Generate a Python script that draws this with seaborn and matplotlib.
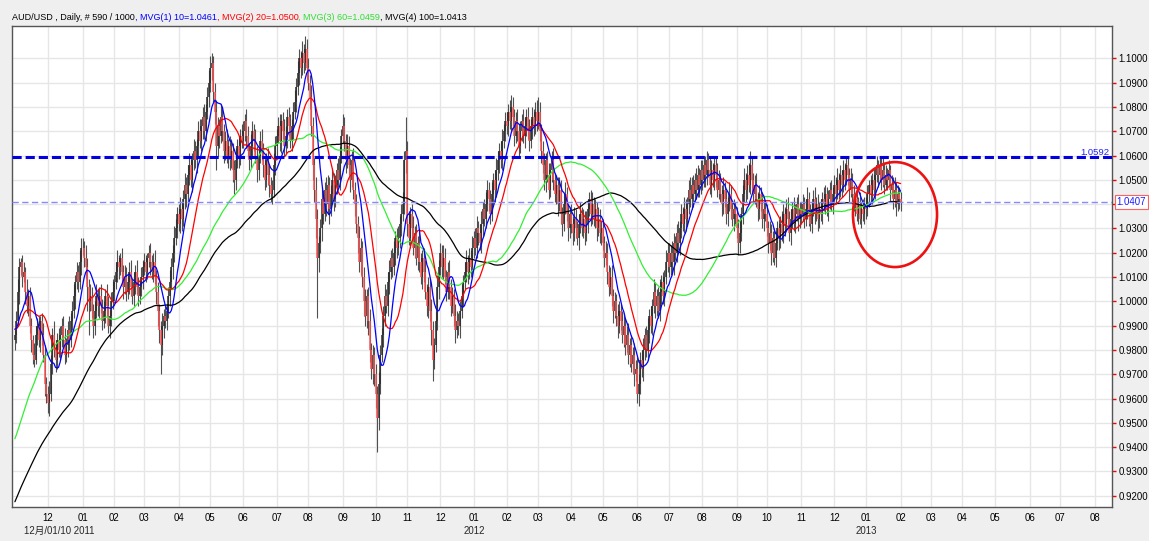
import numpy as np
import pandas as pd
import matplotlib
matplotlib.use("Agg")
import matplotlib.pyplot as plt
from matplotlib.patches import Ellipse
import seaborn as sns

# AUD/USD daily closes, in 1/1000 USD
# closes before the first drawn bar (15 Jun - 29 Oct 2010), only used to warm up the moving averages
close_before = [
    850, 856, 862, 868, 872, 870, 874, 868, 866, 858, 852, 846,
    852, 858, 864, 870, 874, 878, 872, 868, 862, 866, 872, 876, 880, 886, 890, 888, 894, 898, 902, 900, 906, 908,
    912, 914, 910, 906, 900, 896, 892, 894, 898, 900, 896, 892, 888, 884, 886, 890, 894, 888, 884, 880, 886, 892,
    892, 898, 904, 908, 914, 920, 924, 928, 932, 936, 940, 944, 950, 956, 960, 958, 955, 960, 964, 968, 966, 964,
    974, 980, 986, 990, 994, 988, 982, 978, 984, 990, 996, 994, 990, 986, 990, 994, 998, 992, 986, 980, 984,
]
# drawn bars, 1 Nov 2010 - 1 Feb 2013 (one row per month)
close = [
    986, 992, 1004, 1014, 1016, 1010, 1012, 1004, 998, 1002, 990, 984, 978, 976, 986, 990, 984, 992, 986, 978, 966, 962,
    958, 962, 974, 986, 980, 976, 984, 980, 986, 990, 984, 978, 982, 988, 984, 992, 996, 1002, 1008, 1012, 1008, 1016, 1022,
    1022, 1018, 1014, 1006, 1000, 1002, 996, 990, 996, 1002, 998, 1002, 998, 992, 996, 1002, 998, 990, 994, 1000, 1004,
    1008, 1012, 1016, 1014, 1018, 1012, 1006, 1010, 1004, 1008, 1012, 1006, 1002, 1008, 1012, 1006, 1002, 1006, 1010, 1014,
    1016, 1012, 1018, 1020, 1016, 1012, 1016, 1010, 1004, 996, 988, 982, 990, 994, 992, 996, 1002, 1008, 1014, 1020, 1026, 1030, 1036,
    1032, 1038, 1034, 1042, 1048, 1044, 1052, 1056, 1050, 1058, 1062, 1058, 1064, 1070, 1066, 1072, 1076, 1070, 1078, 1084, 1090,
    1096, 1098, 1086, 1078, 1064, 1072, 1068, 1076, 1070, 1062, 1066, 1060, 1064, 1058, 1062, 1054, 1050, 1058, 1064, 1060, 1068, 1066,
    1070, 1074, 1068, 1062, 1058, 1064, 1070, 1066, 1060, 1054, 1060, 1066, 1062, 1056, 1050, 1058, 1052, 1048, 1044, 1046, 1056, 1064,
    1068, 1072, 1066, 1074, 1070, 1064, 1068, 1076, 1072, 1066, 1072, 1078, 1082, 1088, 1094, 1100, 1096, 1102, 1098, 1104, 1096,
    1090, 1084, 1072, 1056, 1046, 1034, 1018, 1024, 1030, 1042, 1036, 1046, 1040, 1048, 1038, 1044, 1050, 1042, 1048, 1054, 1050, 1060, 1068,
    1072, 1066, 1058, 1064, 1056, 1050, 1058, 1046, 1040, 1032, 1026, 1016, 1022, 1010, 1000, 994, 1002, 992, 980, 972, 978, 970,
    962, 952, 966, 978, 986, 994, 1002, 998, 1008, 1012, 1018, 1014, 1020, 1026, 1022, 1026, 1032, 1036, 1040, 1058, 1062,
    1032, 1026, 1036, 1030, 1022, 1028, 1018, 1024, 1016, 1010, 1018, 1012, 1004, 998, 1006, 996, 988, 976, 982, 992, 1006, 1014,
    1020, 1014, 1018, 1010, 1004, 1012, 1006, 998, 1002, 994, 988, 992, 990, 996, 1002, 1008, 1012, 1016, 1012, 1018, 1014, 1022,
    1026, 1022, 1030, 1028, 1024, 1032, 1038, 1034, 1040, 1046, 1042, 1036, 1044, 1050, 1046, 1054, 1058, 1062, 1058, 1066, 1070, 1074,
    1072, 1078, 1074, 1080, 1076, 1068, 1074, 1070, 1064, 1070, 1074, 1068, 1072, 1076, 1070, 1066, 1072, 1076, 1072, 1078, 1074,
    1078, 1070, 1062, 1056, 1050, 1058, 1052, 1046, 1054, 1058, 1050, 1044, 1048, 1040, 1046, 1036, 1032, 1040, 1044, 1036, 1030, 1036,
    1032, 1028, 1034, 1030, 1026, 1032, 1036, 1030, 1034, 1028, 1032, 1038, 1042, 1036, 1040, 1034, 1038, 1030, 1034, 1028, 1030,
    1024, 1018, 1020, 1012, 1006, 1010, 1002, 996, 1000, 994, 990, 996, 992, 986, 990, 982, 986, 978, 982, 974, 978, 970, 972,
    962, 966, 976, 972, 980, 986, 980, 988, 994, 990, 998, 1004, 998, 1002, 996, 1004, 1008, 1002, 1010, 1016, 1020,
    1014, 1020, 1016, 1024, 1020, 1028, 1024, 1030, 1036, 1032, 1038, 1034, 1040, 1046, 1042, 1048, 1044, 1050, 1046, 1052, 1048, 1054,
    1050, 1056, 1052, 1058, 1054, 1048, 1054, 1050, 1056, 1052, 1046, 1050, 1044, 1040, 1046, 1042, 1036, 1040, 1044, 1038, 1034, 1038, 1036,
    1030, 1024, 1028, 1036, 1044, 1050, 1046, 1052, 1048, 1056, 1050, 1044, 1048, 1042, 1038, 1044, 1040, 1034, 1038, 1036,
    1030, 1024, 1028, 1020, 1026, 1018, 1024, 1030, 1026, 1032, 1028, 1036, 1032, 1038, 1034, 1028, 1034, 1038, 1032, 1036, 1040, 1034, 1038,
    1036, 1040, 1034, 1038, 1042, 1036, 1032, 1038, 1042, 1036, 1040, 1034, 1038, 1036, 1042, 1040, 1044, 1038, 1042, 1046, 1040, 1044,
    1048, 1044, 1050, 1046, 1052, 1048, 1054, 1050, 1056, 1052, 1046, 1050, 1044, 1040, 1042, 1036, 1040, 1034, 1038, 1036, 1040,
    1038, 1044, 1048, 1044, 1050, 1046, 1052, 1056, 1052, 1056, 1050, 1054, 1048, 1052, 1050, 1054, 1046, 1048, 1042, 1046, 1040, 1044, 1042,
    1041,
]
# wick above / below the candle body, in 1/1000 USD
up_wick = [
    3, 4, 5, 4, 2, 3, 4, 2, 5, 3, 4, 3, 2, 5, 4, 3, 4, 2, 3, 5, 4, 3,
    3, 5, 4, 3, 6, 4, 3, 5, 4, 3, 4, 5, 3, 4, 6, 3, 4, 5, 3, 4, 3, 5, 4,
    4, 3, 5, 4, 3, 5, 4, 3, 4, 5, 3, 4, 5, 3, 4, 3, 5, 4, 3, 4, 5,
    3, 4, 5, 3, 2, 4, 3, 5, 4, 3, 4, 5, 3, 4, 3, 5, 4, 3, 4, 3,
    4, 3, 2, 3, 4, 3, 4, 5, 3, 4, 3, 4, 5, 3, 4, 3, 4, 5, 4, 3, 5, 4, 3,
    4, 5, 3, 4, 5, 3, 4, 5, 4, 3, 5, 4, 3, 4, 5, 3, 4, 5, 3, 4, 5,
    5, 4, 3, 4, 5, 4, 3, 5, 4, 3, 4, 5, 3, 4, 5, 3, 4, 5, 3, 4, 3, 5,
    4, 3, 5, 4, 3, 5, 4, 3, 5, 4, 3, 4, 5, 3, 4, 3, 5, 4, 3, 4, 5, 4,
    3, 4, 5, 3, 4, 5, 4, 3, 4, 5, 3, 4, 5, 4, 5, 4, 3, 5, 4, 5, 4,
    4, 3, 5, 4, 3, 5, 4, 3, 4, 5, 4, 3, 5, 4, 3, 4, 5, 3, 4, 3, 5, 4, 3,
    5, 4, 3, 5, 4, 3, 4, 5, 3, 4, 3, 5, 4, 3, 4, 5, 3, 4, 5, 3, 4, 3,
    4, 3, 5, 4, 3, 4, 5, 3, 4, 5, 3, 4, 5, 3, 4, 5, 3, 4, 5, 4, 14,
    4, 5, 3, 4, 5, 3, 4, 3, 5, 4, 3, 4, 5, 3, 4, 3, 5, 4, 3, 4, 5, 3,
    4, 3, 5, 4, 3, 4, 5, 3, 4, 3, 5, 4, 3, 4, 5, 3, 4, 5, 3, 4, 3, 5,
    3, 4, 5, 3, 4, 5, 3, 4, 5, 4, 3, 4, 5, 3, 4, 5, 4, 3, 4, 5, 3, 4,
    4, 3, 5, 5, 4, 3, 4, 5, 3, 4, 3, 5, 4, 3, 4, 5, 3, 4, 3, 4, 5,
    6, 4, 3, 4, 5, 3, 4, 5, 3, 4, 5, 3, 4, 3, 5, 4, 3, 4, 5, 3, 4, 3,
    4, 3, 5, 4, 3, 4, 5, 3, 4, 3, 5, 4, 3, 4, 5, 3, 4, 3, 5, 4, 3,
    4, 3, 5, 4, 3, 4, 5, 3, 4, 3, 5, 4, 3, 4, 5, 3, 4, 5, 3, 4, 3, 5, 4,
    5, 4, 3, 4, 5, 3, 4, 5, 3, 4, 3, 5, 4, 3, 4, 5, 3, 4, 3, 5, 4,
    4, 3, 5, 4, 3, 4, 5, 3, 4, 3, 5, 4, 3, 4, 5, 3, 4, 3, 5, 4, 3, 4,
    4, 3, 4, 4, 3, 5, 4, 3, 4, 3, 5, 4, 3, 4, 5, 3, 4, 3, 5, 4, 3, 4, 3,
    3, 4, 5, 3, 4, 5, 3, 4, 5, 6, 4, 3, 4, 5, 3, 4, 3, 5, 4, 3,
    4, 3, 5, 4, 3, 4, 5, 3, 4, 3, 5, 4, 3, 4, 5, 3, 4, 3, 5, 4, 3, 4, 3,
    3, 4, 3, 4, 5, 3, 4, 3, 4, 5, 3, 4, 3, 4, 3, 5, 4, 3, 4, 3, 4, 3,
    4, 3, 5, 3, 4, 2, 4, 3, 3, 4, 3, 5, 3, 4, 2, 4, 3, 5, 3, 4, 3,
    3, 4, 2, 4, 3, 5, 3, 4, 2, 4, 3, 5, 3, 4, 3, 4, 2, 4, 3, 5, 3, 4, 3,
    3,
]
down_wick = [
    4, 3, 2, 5, 3, 4, 2, 5, 3, 4, 3, 5, 4, 3, 2, 4, 3, 5, 4, 3, 5, 4,
    4, 5, 3, 4, 3, 5, 4, 3, 4, 5, 3, 4, 3, 5, 4, 3, 4, 3, 5, 3, 4, 3, 5,
    3, 4, 5, 10, 14, 4, 3, 5, 4, 3, 4, 5, 3, 4, 3, 5, 4, 3, 5, 4, 3,
    4, 3, 4, 5, 3, 4, 5, 3, 4, 3, 5, 4, 3, 4, 5, 3, 4, 3, 4, 5,
    3, 4, 3, 4, 5, 3, 4, 3, 5, 6, 5, 12, 4, 5, 3, 4, 3, 4, 3, 5, 4, 3, 4,
    3, 4, 5, 3, 4, 5, 3, 4, 3, 5, 4, 3, 5, 4, 3, 4, 5, 3, 4, 3, 4,
    4, 5, 4, 5, 10, 4, 5, 3, 4, 5, 4, 3, 5, 4, 3, 5, 6, 4, 3, 5, 4, 3,
    3, 4, 5, 3, 4, 3, 5, 4, 3, 5, 4, 3, 4, 5, 4, 3, 4, 5, 3, 4, 3, 4,
    4, 3, 4, 5, 3, 4, 3, 5, 4, 3, 4, 5, 3, 4, 3, 5, 4, 3, 4, 3, 5,
    3, 5, 4, 6, 5, 8, 25, 6, 4, 5, 4, 3, 5, 4, 6, 3, 4, 5, 3, 4, 3, 4, 3,
    3, 4, 5, 3, 4, 5, 3, 4, 5, 4, 6, 4, 5, 4, 6, 4, 5, 6, 5, 4, 6, 5,
    6, 14, 5, 4, 3, 5, 4, 3, 4, 5, 3, 4, 3, 5, 4, 3, 4, 5, 3, 4, 5,
    5, 3, 4, 5, 3, 4, 3, 5, 4, 3, 5, 4, 3, 4, 5, 4, 6, 9, 4, 3, 4, 5,
    3, 4, 5, 3, 4, 3, 5, 4, 3, 4, 5, 3, 4, 5, 3, 4, 3, 4, 5, 3, 4, 3,
    4, 3, 4, 5, 3, 4, 5, 3, 4, 3, 5, 4, 3, 4, 5, 3, 4, 5, 3, 4, 3, 4,
    3, 4, 3, 4, 5, 4, 3, 4, 5, 3, 4, 3, 5, 4, 3, 4, 3, 5, 4, 3, 4,
    3, 4, 5, 3, 4, 5, 3, 4, 3, 5, 4, 3, 4, 5, 3, 4, 5, 3, 4, 3, 5, 4,
    4, 5, 3, 4, 3, 5, 4, 3, 4, 5, 3, 4, 3, 5, 4, 3, 4, 5, 3, 4, 5,
    3, 4, 3, 5, 4, 3, 4, 5, 3, 4, 5, 3, 4, 3, 5, 4, 3, 4, 5, 3, 4, 5, 3,
    4, 5, 4, 3, 5, 4, 3, 4, 5, 3, 4, 3, 5, 4, 3, 4, 5, 3, 4, 3, 4,
    4, 3, 4, 5, 3, 4, 3, 5, 4, 3, 4, 5, 3, 4, 3, 4, 5, 3, 4, 3, 5, 4,
    4, 3, 5, 4, 3, 4, 5, 3, 4, 5, 3, 4, 3, 5, 4, 3, 4, 5, 3, 4, 3, 5, 4,
    4, 5, 4, 3, 4, 3, 5, 4, 3, 4, 5, 3, 4, 3, 5, 4, 3, 4, 5, 3,
    3, 4, 3, 5, 4, 3, 4, 3, 5, 4, 3, 4, 5, 3, 4, 3, 5, 4, 3, 4, 3, 5, 4,
    4, 3, 4, 3, 4, 5, 3, 4, 3, 4, 3, 5, 4, 3, 4, 3, 4, 3, 5, 4, 3, 4,
    3, 4, 2, 4, 3, 5, 3, 4, 2, 4, 5, 3, 4, 3, 5, 3, 4, 2, 4, 3, 4,
    4, 3, 5, 3, 4, 2, 4, 3, 5, 3, 4, 3, 4, 2, 4, 3, 5, 3, 4, 3, 5, 3, 4,
    4,
]

first_day = "2010-11-01"
axis_last_day = "2013-08-30"
ma_periods = [100, 60, 20, 10]
ma_colors = ["#000000", "#33ee33", "#ff0000", "#0000ff"]
title_parts = [
    ("AUD/USD , Daily, # 590 / 1000", "#000000"),
    (", MVG(1) 10=1.0461", "#0000ff"),
    (", MVG(2) 20=1.0500", "#ff0000"),
    (", MVG(3) 60=1.0459", "#33dd33"),
    (", MVG(4) 100=1.0413", "#000000"),
]
year_labels = {2011: "12月/01/10 2011", 2012: "2012", 2013: "2013"}
resistance = 1.0592
last_price = 1.0407

sns.set_style("white")
plt.rcParams["font.family"] = ["Liberation Sans", "Noto Sans CJK JP"]

fig = plt.figure(figsize=(11.49, 5.41), dpi=100)
fig.patch.set_facecolor("#efefef")
ax = fig.add_axes([12 / 1149, 1 - 507 / 541, 1100 / 1149, 481 / 541])
ax.set_facecolor("white")

# candles: open = previous close
c = np.array(close) / 1000
o = np.array([close_before[-1]] + close[:-1]) / 1000
hi = np.maximum(o, c) + np.array(up_wick) / 1000
lo = np.minimum(o, c) - np.array(down_wick) / 1000
x = np.arange(len(c))
up = c >= o
ax.vlines(x, lo, hi, color="#505050", lw=0.8, zorder=2)
ax.vlines(x[up], o[up], c[up], color="#2a2a2a", lw=1.1, zorder=2.1)
ax.vlines(x[~up], c[~up], o[~up], color="#ff5555", lw=1.1, zorder=2.1)

# moving averages
s = pd.Series(close_before + close, dtype=float) / 1000
for n, col in zip(ma_periods, ma_colors):
    m = s.rolling(n).mean().to_numpy()[len(close_before):]
    sns.lineplot(x=x, y=m, color=col, lw=0.9, ax=ax, zorder=3)

ax.axhline(resistance, color="#0000e0", lw=2.2, dashes=(3, 1.3), zorder=4)
ax.axhline(last_price, color="#8888ff", lw=1.0, dashes=(4.5, 2.5), zorder=4)
ax.text(0.998, resistance, "1.0592", transform=ax.get_yaxis_transform(), ha="right", va="bottom",
        color="#2222ff", fontsize=6.8, zorder=5)
ax.text(1.0042, last_price, "1.0407", transform=ax.get_yaxis_transform(), ha="left", va="center",
        color="#1a1aff", fontsize=6.9, zorder=6, clip_on=False,
        bbox=dict(boxstyle="square,pad=0.2", fc="white", ec="#ff6060", lw=0.8))

ax.add_patch(Ellipse((585.3, 1.0357), 55.9, 0.0432, fill=False, ec="#ee1111", lw=1.9, zorder=7))

# axes, ticks, grid
days = pd.bdate_range(first_day, axis_last_day)
mon = days.year * 12 + days.month
pos = np.flatnonzero(np.diff(mon)) + 1
ax.set_xticks(pos, days[pos].strftime("%m"))
ax.set_xlim(-1.93, 729.6)
ax.set_ylim(0.91535, 1.1133)
ax.yaxis.tick_right()
yt = np.round(np.arange(0.92, 1.1001, 0.01), 2)
# the 1.0400 label sits under the last-price box
ax.set_yticks(yt, ["" if abs(v - 1.04) < 1e-9 else f"{v:.4f}" for v in yt])
ax.tick_params(axis="both", colors="red", labelcolor="black", length=3, width=1, labelsize=6.9, direction="out")
ax.tick_params(axis="x", pad=1.5)
ax.tick_params(axis="y", pad=1.5)
ax.set_xlabel("")
ax.set_ylabel("")
ax.grid(True, color="#e6e6e6", lw=1.0)
ax.set_axisbelow(True)
for sp in ax.spines.values():
    sp.set_color("#555555")
    sp.set_linewidth(1.0)

for p in pos[days[pos].month == 1]:
    ax.annotate(year_labels[days[p].year], xy=(p, 0), xycoords=ax.get_xaxis_transform(),
                xytext=(11.5, -24), textcoords="offset pixels", ha="right", va="center", fontsize=6.9)

# title in coloured pieces
t = ax.annotate(title_parts[0][0], xy=(12, 541 - 17), xycoords="figure pixels", va="center", ha="left",
                color=title_parts[0][1], fontsize=6.5)
for txt, col in title_parts[1:]:
    t = ax.annotate(txt, xy=(1, 0), xycoords=t, va="bottom", ha="left", color=col, fontsize=6.5)

fig.savefig("out.png", dpi=100, facecolor=fig.get_facecolor())
